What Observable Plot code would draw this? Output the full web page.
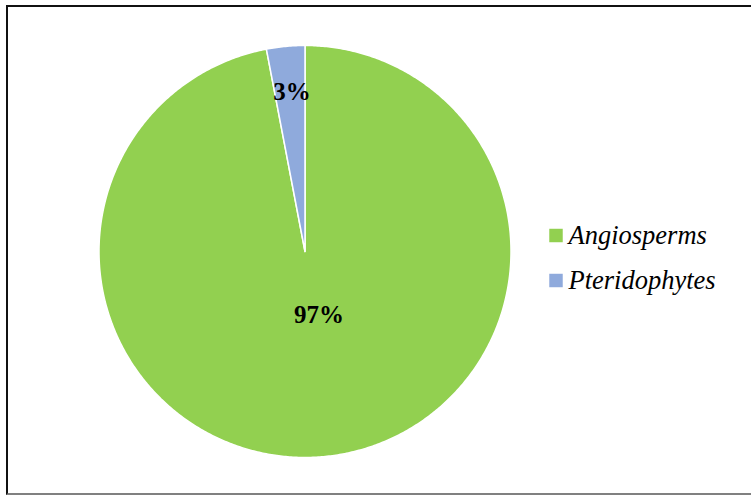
<!DOCTYPE html>
<html>
<head>
<meta charset="utf-8">
<script src="https://cdn.jsdelivr.net/npm/d3@7"></script>
<script src="https://cdn.jsdelivr.net/npm/@observablehq/plot@0.6"></script>
<style>
  html, body { margin: 0; padding: 0; overflow: hidden; background: white; }
  #wrap { position: relative; width: 751px; height: 496px; }
  #border { position: absolute; left: 6px; top: 5px; width: 760px; height: 486px;
            border: 2px solid #111; border-bottom-color: #808080; pointer-events: none; }
  #legend { position: absolute; left: 540px; top: 212px; }
  svg { background: transparent !important; }
</style>
</head>
<body>
<div id="wrap">
  <div id="chart"></div>
  <div id="legend"></div>
  <div id="border"></div>
</div>
<script>
const categories = ["Angiosperms", "Pteridophytes"];
const shares = [97, 3];
const shareLabels = ["97%", "3%"];
const colors = ["#92D050", "#8FAADC"];

// pie geometry from the data (angles clockwise from 12 o'clock)
const arcs = d3.pie().sort(null)(shares);
const slices = [];
arcs.forEach((a, i) => {
  const n = Math.max(4, Math.ceil((a.endAngle - a.startAngle) / (Math.PI / 360)));
  slices.push({category: categories[i], x: 0, y: 0});
  for (let k = 0; k <= n; k++) {
    const t = a.startAngle + (a.endAngle - a.startAngle) * k / n;
    slices.push({category: categories[i], x: Math.sin(t), y: Math.cos(t)});
  }
});
const labelRadius = [0.31, 0.78];
const labelRows = arcs.map((a, i) => {
  const m = (a.startAngle + a.endAngle) / 2;
  return {category: categories[i], label: shareLabels[i],
          x: labelRadius[i] * Math.sin(m), y: labelRadius[i] * Math.cos(m)};
});

const cx = 304.5, cy = 251, R = 206;
const font = "'Liberation Serif', 'Times New Roman', serif";

const chart = Plot.plot({
  width: 751, height: 496,
  marginTop: 0, marginRight: 0, marginBottom: 0, marginLeft: 0,
  style: {background: "transparent"},
  x: {axis: null, domain: [-1, 1], range: [cx - R, cx + R]},
  y: {axis: null, domain: [-1, 1], range: [cy + R, cy - R]},
  color: {domain: categories, range: colors},
  marks: [
    Plot.line(slices, {x: "x", y: "y", z: "category", fill: "category",
      stroke: "white", strokeWidth: 1.5, curve: "linear-closed"}),
    Plot.text(labelRows.filter(d => d.category === "Angiosperms"), {x: "x", y: "y", text: "label",
      dx: 8, fontSize: 25, fontWeight: "bold", fontFamily: font, fill: "black"}),
    Plot.text(labelRows.filter(d => d.category === "Pteridophytes"), {x: "x", y: "y", text: "label",
      dx: 2, fontSize: 25, fontWeight: "bold", fontFamily: font, fill: "black"})
  ]
});
document.getElementById("chart").appendChild(chart);

const legend = Plot.plot({
  width: 211, height: 92,
  marginTop: 0, marginRight: 0, marginBottom: 0, marginLeft: 0,
  style: {background: "transparent"},
  y: {axis: null, type: "point", domain: categories, range: [23, 68], padding: 0},
  color: {domain: categories, range: colors},
  marks: [
    Plot.dot(categories, {y: d => d, frameAnchor: "left", dx: 15.5, symbol: "square",
      r: 7.6, fill: d => d, stroke: null}),
    Plot.text(categories, {y: d => d, text: d => d, frameAnchor: "left", dx: 28,
      textAnchor: "start", fontSize: 26.5, fontStyle: "italic", fontFamily: font, fill: "black"})
  ]
});
document.getElementById("legend").appendChild(legend);
</script>
</body>
</html>
